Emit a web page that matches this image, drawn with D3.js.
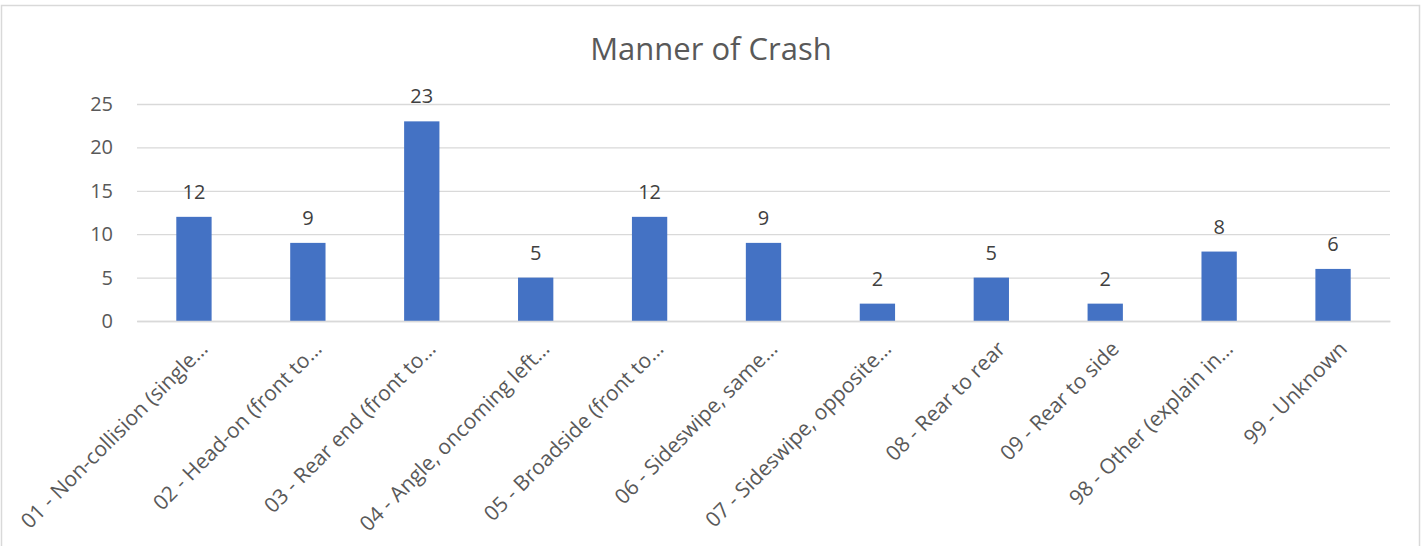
<!DOCTYPE html>
<html><head><meta charset="utf-8">
<script src="https://cdn.jsdelivr.net/npm/d3@7"></script>
<style>body{margin:0;background:#fff}svg{display:block}</style>
</head><body><svg id="c" width="1424" height="546"></svg>
<script>
const categories = ["01 - Non-collision (single…","02 - Head-on (front to…","03 - Rear end (front to…","04 - Angle, oncoming left…","05 - Broadside (front to…","06 - Sideswipe, same…","07 - Sideswipe, opposite…","08 - Rear to rear","09 - Rear to side","98 - Other (explain in…","99 - Unknown"];
const values = [12, 9, 23, 5, 12, 9, 2, 5, 2, 8, 6];
const yTicks = [0, 5, 10, 15, 20, 25];
const title = "Manner of Crash";

const svg = d3.select("#c");
const font = "'Open Sans', sans-serif";
svg.append("rect").attr("x",1.5).attr("y",5.5).attr("width",1418).attr("height",560)
  .attr("fill","#fff").attr("stroke","#d9d9d9").attr("stroke-width",1.5);

const x = d3.scaleBand().domain(categories).range([137, 1390]).paddingInner(0.69).paddingOuter(0.345);
const y = d3.scaleLinear().domain([0, 25]).range([321, 104]);

svg.append("text").attr("x", 711).attr("y", 60).attr("text-anchor","middle")
  .attr("font-family", font).attr("font-size", 31).attr("fill","#595959").text(title);

const gy = svg.append("g").attr("transform","translate(137,0)")
  .call(d3.axisLeft(y).tickValues(yTicks).tickSize(-1253).tickPadding(24));
gy.select(".domain").remove();
gy.selectAll(".tick line").attr("stroke","#d9d9d9").attr("stroke-width",1.3);
gy.selectAll(".tick text").attr("font-family", font).attr("font-size", 20).attr("fill","#595959");

svg.selectAll("rect.bar").data(values).join("rect").attr("class","bar")
  .attr("x",(d,i)=>x(categories[i])).attr("width",x.bandwidth())
  .attr("y",d=>y(d)).attr("height",d=>y(0)-y(d)).attr("fill","#4472c4");

svg.selectAll("text.lbl").data(values).join("text").attr("class","lbl")
  .attr("x",(d,i)=>x(categories[i])+x.bandwidth()/2).attr("y",d=>y(d)-18)
  .attr("text-anchor","middle").attr("font-family",font).attr("font-size",20).attr("fill","#404040")
  .text(d=>d);

const gx = svg.append("g").attr("transform","translate(0,321)")
  .call(d3.axisBottom(x).tickSize(0).tickPadding(0));
gx.select(".domain").attr("stroke","#d9d9d9").attr("stroke-width",1.3);
gx.selectAll(".tick text").attr("font-family",font).attr("font-size",21).attr("fill","#595959")
  .attr("text-anchor","end").attr("y",0).attr("dy","0.35em")
  .attr("transform","translate(10,24) rotate(-45)");
</script></body></html>
